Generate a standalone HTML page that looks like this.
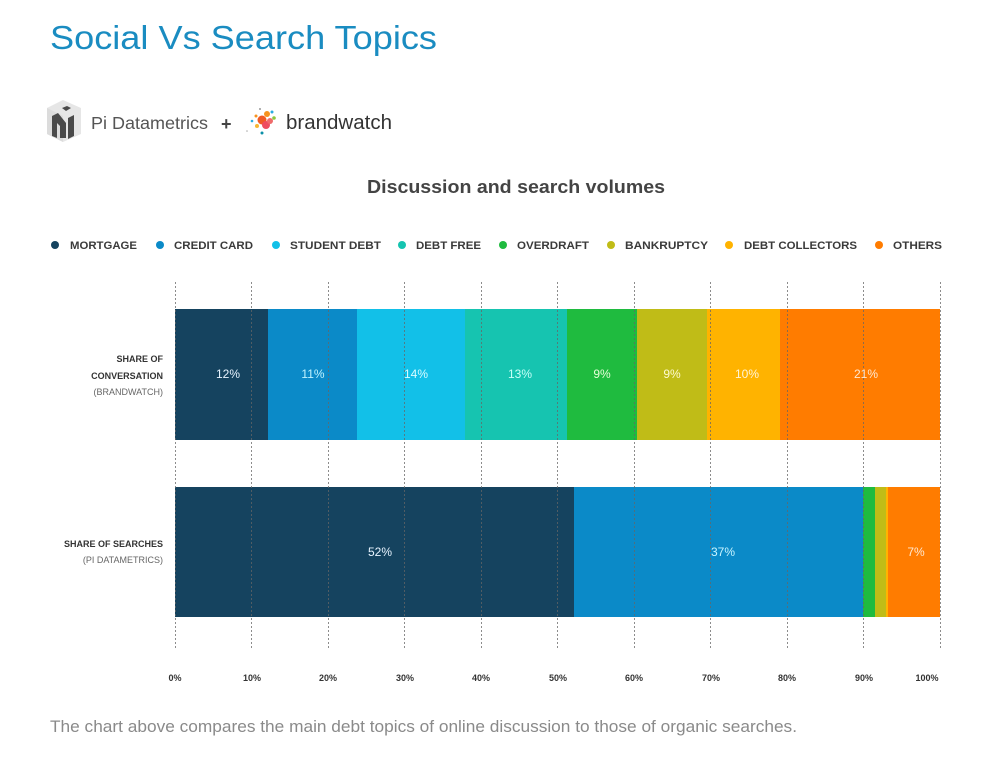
<!DOCTYPE html>
<html><head><meta charset="utf-8">
<style>
html,body{margin:0;padding:0;background:#fff;}
svg{display:block;}
text{font-family:"Liberation Sans",Arial,sans-serif;}
</style></head>
<body>
<svg width="1005" height="769" viewBox="0 0 1005 769" xmlns="http://www.w3.org/2000/svg">
<rect width="1005" height="769" fill="#fff"/>
<!-- Title -->
<text x="50" y="49" font-size="33" fill="#1a8cc1" textLength="387" lengthAdjust="spacingAndGlyphs">Social Vs Search Topics</text>

<!-- Pi Datametrics logo -->
<g>
  <polygon points="47,108 63,100 81,108 81,134 63,142 47,134" fill="#e6e6e6"/>
  <polygon points="47,108 63,116 63,142 47,134" fill="#dcdcdc"/>
  <polygon points="52,116 58,113 66,123 66,138 60,138 60,126 57,123 57,138 52,136" fill="#4a4a4a"/>
  <polygon points="68,118 74,115 74,136 68,139" fill="#4a4a4a"/>
  <polygon points="62,108 67,106 71,108 66,111" fill="#4a4a4a"/>
</g>
<text x="91" y="129" font-size="17.5" fill="#555" textLength="117" lengthAdjust="spacingAndGlyphs">Pi Datametrics</text>
<text x="221" y="130" font-size="18" font-weight="bold" fill="#444">+</text>

<!-- brandwatch logo -->
<g>
  <circle cx="262" cy="120" r="4.5" fill="#f15a24"/>
  <circle cx="267" cy="114" r="3" fill="#f7931e"/>
  <circle cx="266" cy="125" r="4" fill="#ee4d5f"/>
  <circle cx="270" cy="121" r="3" fill="#ef6b6b"/>
  <circle cx="256" cy="116" r="1.5" fill="#f7931e"/>
  <circle cx="257" cy="126" r="2" fill="#f7b733"/>
  <circle cx="274" cy="118" r="1.8" fill="#8cc63f"/>
  <circle cx="272" cy="112" r="1.5" fill="#29abe2"/>
  <circle cx="252" cy="121" r="1.3" fill="#29abe2"/>
  <circle cx="262" cy="133" r="1.5" fill="#0a8fa8"/>
  <circle cx="260" cy="109" r="1" fill="#999"/>
  <circle cx="247" cy="131" r="0.8" fill="#aaa"/>
</g>
<text x="286" y="129" font-size="20" fill="#333" textLength="106" lengthAdjust="spacingAndGlyphs">brandwatch</text>

<!-- Chart title -->
<text x="367" y="193" font-size="18" font-weight="bold" fill="#444" textLength="298" lengthAdjust="spacingAndGlyphs">Discussion and search volumes</text>

<!-- Legend -->
<g font-size="11" font-weight="bold" fill="#3a3a3a">
  <circle cx="55" cy="245" r="4" fill="#15435f"/>
  <text x="70" y="249" textLength="67" lengthAdjust="spacingAndGlyphs">MORTGAGE</text>
  <circle cx="160" cy="245" r="4" fill="#0b8ac8"/>
  <text x="174" y="249" textLength="79" lengthAdjust="spacingAndGlyphs">CREDIT CARD</text>
  <circle cx="276" cy="245" r="4" fill="#12c0e8"/>
  <text x="290" y="249" textLength="91" lengthAdjust="spacingAndGlyphs">STUDENT DEBT</text>
  <circle cx="402" cy="245" r="4" fill="#16c4b0"/>
  <text x="416" y="249" textLength="65" lengthAdjust="spacingAndGlyphs">DEBT FREE</text>
  <circle cx="503" cy="245" r="4" fill="#1fbb3f"/>
  <text x="517" y="249" textLength="72" lengthAdjust="spacingAndGlyphs">OVERDRAFT</text>
  <circle cx="611" cy="245" r="4" fill="#c0bc17"/>
  <text x="625" y="249" textLength="83" lengthAdjust="spacingAndGlyphs">BANKRUPTCY</text>
  <circle cx="729" cy="245" r="4" fill="#ffb300"/>
  <text x="744" y="249" textLength="113" lengthAdjust="spacingAndGlyphs">DEBT COLLECTORS</text>
  <circle cx="879" cy="245" r="4" fill="#ff7c00"/>
  <text x="893" y="249" textLength="49" lengthAdjust="spacingAndGlyphs">OTHERS</text>
</g>

<!-- Bar 1 -->
<g>
  <rect x="175" y="309" width="93" height="131" fill="#15435f"/>
  <rect x="268" y="309" width="89" height="131" fill="#0b8ac8"/>
  <rect x="357" y="309" width="108" height="131" fill="#12c0e8"/>
  <rect x="465" y="309" width="102" height="131" fill="#16c4b0"/>
  <rect x="567" y="309" width="70" height="131" fill="#1fbb3f"/>
  <rect x="637" y="309" width="70" height="131" fill="#c0bc17"/>
  <rect x="707" y="309" width="73" height="131" fill="#ffb300"/>
  <rect x="780" y="309" width="160" height="131" fill="#ff7c00"/>
</g>
<!-- Bar 2 -->
<g>
  <rect x="175" y="487" width="399" height="130" fill="#15435f"/>
  <rect x="574" y="487" width="289" height="130" fill="#0b8ac8"/>
  <rect x="863" y="487" width="12" height="130" fill="#1fbb3f"/>
  <rect x="875" y="487" width="11" height="130" fill="#c0bc17"/>
  <rect x="886" y="487" width="2" height="130" fill="#ffb300"/>
  <rect x="888" y="487" width="52" height="130" fill="#ff7c00"/>
</g>

<!-- Grid lines -->
<g stroke="#666" stroke-width="1" stroke-dasharray="2,2" opacity="0.75">
  <line x1="175.5" y1="282" x2="175.5" y2="650"/>
  <line x1="251.5" y1="282" x2="251.5" y2="650"/>
  <line x1="328.5" y1="282" x2="328.5" y2="650"/>
  <line x1="404.5" y1="282" x2="404.5" y2="650"/>
  <line x1="481.5" y1="282" x2="481.5" y2="650"/>
  <line x1="557.5" y1="282" x2="557.5" y2="650"/>
  <line x1="634.5" y1="282" x2="634.5" y2="650"/>
  <line x1="710.5" y1="282" x2="710.5" y2="650"/>
  <line x1="787.5" y1="282" x2="787.5" y2="650"/>
  <line x1="863.5" y1="282" x2="863.5" y2="650"/>
  <line x1="940.5" y1="282" x2="940.5" y2="650"/>
</g>

<!-- Bar value labels -->
<g font-size="12" text-anchor="middle">
  <text x="228" y="378" fill="#e8f4ff">12%</text>
  <text x="313" y="378" fill="#bff3ff">11%</text>
  <text x="416" y="378" fill="#d8fbff">14%</text>
  <text x="520" y="378" fill="#c8fff8">13%</text>
  <text x="602" y="378" fill="#e6ffd8">9%</text>
  <text x="672" y="378" fill="#fffbd0">9%</text>
  <text x="747" y="378" fill="#fff4d8">10%</text>
  <text x="866" y="378" fill="#ffe8d0">21%</text>
  <text x="380" y="556" fill="#e8f4ff">52%</text>
  <text x="723" y="556" fill="#c8f4ff">37%</text>
  <text x="916" y="556" fill="#ffe8d0">7%</text>
</g>

<!-- Y-axis labels -->
<g font-size="9" text-anchor="end" fill="#333">
  <text x="163" y="362" font-weight="bold">SHARE OF</text>
  <text x="163" y="379" font-weight="bold">CONVERSATION</text>
  <text x="163" y="395" fill="#666">(BRANDWATCH)</text>
  <text x="163" y="547" font-weight="bold">SHARE OF SEARCHES</text>
  <text x="163" y="563" fill="#666">(PI DATAMETRICS)</text>
</g>

<!-- X-axis labels -->
<g font-size="9" font-weight="bold" fill="#333" text-anchor="middle">
  <text x="175" y="681">0%</text>
  <text x="252" y="681">10%</text>
  <text x="328" y="681">20%</text>
  <text x="405" y="681">30%</text>
  <text x="481" y="681">40%</text>
  <text x="558" y="681">50%</text>
  <text x="634" y="681">60%</text>
  <text x="711" y="681">70%</text>
  <text x="787" y="681">80%</text>
  <text x="864" y="681">90%</text>
  <text x="927" y="681">100%</text>
</g>

<!-- Footer -->
<text x="50" y="732" font-size="16.5" fill="#8a8a8a" textLength="747" lengthAdjust="spacingAndGlyphs">The chart above compares the main debt topics of online discussion to those of organic searches.</text>
</svg>
</body></html>
